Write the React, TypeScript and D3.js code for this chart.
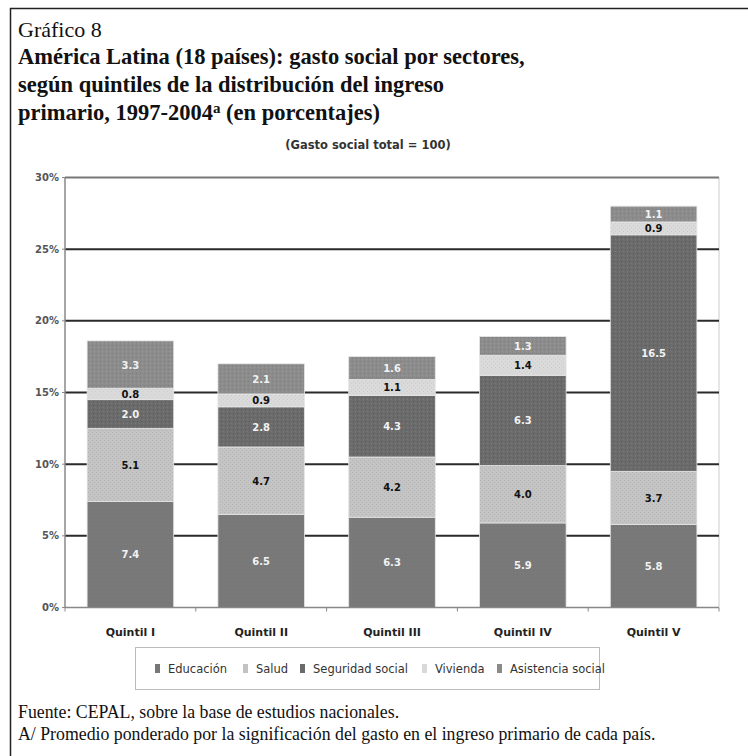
import React from "react";
import * as d3 from "d3";

const quintiles = ["Quintil I", "Quintil II", "Quintil III", "Quintil IV", "Quintil V"];
const sectors = ["Educación", "Salud", "Seguridad social", "Vivienda", "Asistencia social"];
const educacion = [7.4, 6.5, 6.3, 5.9, 5.8];
const salud = [5.1, 4.7, 4.2, 4.0, 3.7];
const seguridad = [2.0, 2.8, 4.3, 6.3, 16.5];
const vivienda = [0.8, 0.9, 1.1, 1.4, 0.9];
const asistencia = [3.3, 2.1, 1.6, 1.3, 1.1];
const yTicks = [0, 5, 10, 15, 20, 25, 30];

const seriesValues = [educacion, salud, seguridad, vivienda, asistencia];
const fills = ["url(#pEdu)", "url(#pSal)", "url(#pSeg)", "url(#pViv)", "url(#pAsi)"];
const swatch = ["#777777", "#c2c2c2", "#6a6a6a", "#d9d9d9", "#8a8a8a"];
const labelColor = ["#f2f2f2", "#111111", "#f2f2f2", "#111111", "#f2f2f2"];

const W = 748;
const H = 756;
const plotLeft = 65;
const plotRight = 719;
const plotTop = 177.5;
const plotBottom = 607.5;

export default function App() {
  const rows = quintiles.map((q, i) => {
    const r: Record<string, any> = { q };
    sectors.forEach((s, k) => (r[s] = seriesValues[k][i]));
    return r;
  });
  const stacked = d3.stack<any>().keys(sectors)(rows);

  const x = d3
    .scaleBand<string>()
    .domain(quintiles)
    .range([plotLeft, plotRight])
    .paddingInner(0.338)
    .paddingOuter(0.169);
  const y = d3.scaleLinear().domain([0, 30]).range([plotBottom, plotTop]);
  const step = x.step();

  const sans = "'DejaVu Sans', Verdana, sans-serif";
  const serif = "'Liberation Serif', 'DejaVu Serif', serif";

  const legendX = [155, 243, 300, 422, 497];

  return (
    <svg
      width={W}
      height={H}
      style={{ position: "absolute", left: 0, top: 0, background: "#fff" }}
    >
      <defs>
        <pattern id="pEdu" width="4" height="4" patternUnits="userSpaceOnUse">
          <rect width="4" height="4" fill="#797979" />
          <rect x="1" y="2" width="1" height="1" fill="#717171" />
        </pattern>
        <pattern id="pSal" width="4" height="4" patternUnits="userSpaceOnUse">
          <rect width="4" height="4" fill="#c4c4c4" />
          <rect x="0" y="0" width="1" height="1" fill="#b3b3b3" />
          <rect x="2" y="2" width="1" height="1" fill="#b3b3b3" />
        </pattern>
        <pattern id="pSeg" width="4" height="4" patternUnits="userSpaceOnUse">
          <rect width="4" height="4" fill="#6b6b6b" />
          <rect x="1" y="1" width="1" height="1" fill="#5a5a5a" />
          <rect x="3" y="3" width="1" height="1" fill="#7a7a7a" />
        </pattern>
        <pattern id="pViv" width="4" height="4" patternUnits="userSpaceOnUse">
          <rect width="4" height="4" fill="#dadada" />
          <rect x="1" y="1" width="1" height="1" fill="#cccccc" />
          <rect x="3" y="3" width="1" height="1" fill="#cccccc" />
        </pattern>
        <pattern id="pAsi" width="4" height="4" patternUnits="userSpaceOnUse">
          <rect width="4" height="4" fill="#8c8c8c" />
          <rect x="0" y="1" width="1" height="1" fill="#7d7d7d" />
          <rect x="2" y="3" width="1" height="1" fill="#9a9a9a" />
        </pattern>
      </defs>

      {/* outer frame */}
      <line x1={10} y1={8.5} x2={W} y2={8.5} stroke="#222" strokeWidth={1.5} />
      <line x1={10.5} y1={8} x2={10.5} y2={H} stroke="#222" strokeWidth={1.5} />

      {/* titles */}
      <text x={18} y={37} fontFamily={serif} fontSize={22} fill="#111">
        Gráfico 8
      </text>
      <g fontFamily={serif} fontSize={22.5} fontWeight="bold" fill="#111">
        <text x={18} y={64}>América Latina (18 países): gasto social por sectores,</text>
        <text x={18} y={92}>según quintiles de la distribución del ingreso</text>
        <text x={18} y={120}>
          primario, 1997-2004
          <tspan fontSize={15} dy={-7}>a</tspan>
          <tspan dy={7}> (en porcentajes)</tspan>
        </text>
      </g>
      <text
        x={368}
        y={149}
        textAnchor="middle"
        fontFamily={sans}
        fontSize={11.5}
        fontWeight="bold"
        fill="#333"
      >
        (Gasto social total = 100)
      </text>

      {/* plot frame */}
      <line x1={plotLeft} y1={plotTop} x2={plotRight} y2={plotTop} stroke="#777" strokeWidth={2} />
      <line
        x1={plotRight}
        y1={plotTop}
        x2={plotRight}
        y2={plotBottom}
        stroke="#999"
        strokeWidth={1}
        strokeDasharray="1 1"
      />

      {/* gridlines */}
      {yTicks
        .filter((t) => t > 0 && t < 30)
        .map((t) => (
          <line
            key={t}
            x1={plotLeft}
            x2={plotRight}
            y1={y(t)}
            y2={y(t)}
            stroke="#2a2a2a"
            strokeWidth={2}
          />
        ))}

      {/* stacked bars */}
      {stacked.map((layer, k) => (
        <g key={sectors[k]}>
          {layer.map((d, i) => {
            const x0 = x(quintiles[i]) as number;
            const top = y(d[1]);
            const h = y(d[0]) - y(d[1]);
            return (
              <rect
                key={i}
                x={x0}
                y={top}
                width={x.bandwidth()}
                height={h}
                fill={fills[k]}
                stroke="#e6e6e6"
                strokeWidth={0.8}
              />
            );
          })}
        </g>
      ))}

      {/* value labels */}
      {stacked.map((layer, k) => (
        <g key={"l" + k} fontFamily={sans} fontSize={10} fontWeight="bold" textAnchor="middle">
          {layer.map((d, i) => {
            const cx = (x(quintiles[i]) as number) + x.bandwidth() / 2;
            const cy = (y(d[0]) + y(d[1])) / 2;
            return (
              <text key={i} x={cx} y={cy + 4} fill={labelColor[k]}>
                {seriesValues[k][i].toFixed(1)}
              </text>
            );
          })}
        </g>
      ))}

      {/* axes */}
      <line x1={plotLeft} y1={plotTop} x2={plotLeft} y2={plotBottom} stroke="#888" strokeWidth={1.5} />
      <line x1={plotLeft} y1={plotBottom} x2={plotRight} y2={plotBottom} stroke="#888" strokeWidth={1.5} />
      {yTicks.map((t) => (
        <g key={"yt" + t}>
          <line x1={plotLeft - 3} x2={plotLeft} y1={y(t)} y2={y(t)} stroke="#888" />
          <text
            x={plotLeft - 6}
            y={y(t) + 3.5}
            textAnchor="end"
            fontFamily={sans}
            fontSize={10}
            fontWeight="bold"
            fill="#555"
          >
            {t}%
          </text>
        </g>
      ))}
      {d3.range(quintiles.length + 1).map((i) => (
        <line
          key={"xt" + i}
          x1={plotLeft + i * step}
          x2={plotLeft + i * step}
          y1={plotBottom}
          y2={plotBottom + 4}
          stroke="#888"
        />
      ))}
      {quintiles.map((q) => (
        <text
          key={q}
          x={(x(q) as number) + x.bandwidth() / 2}
          y={636}
          textAnchor="middle"
          fontFamily={sans}
          fontSize={11}
          fontWeight="bold"
          fill="#222"
        >
          {q}
        </text>
      ))}

      {/* legend */}
      <rect x={135.5} y={647.5} width={464} height={42} fill="none" stroke="#bbb" strokeWidth={1} />
      {sectors.map((s, k) => (
        <g key={"lg" + k}>
          <rect x={legendX[k]} y={664} width={5} height={9} fill={swatch[k]} />
          <text x={legendX[k] + 13} y={673} fontFamily={sans} fontSize={11.5} fill="#333">
            {s}
          </text>
        </g>
      ))}

      {/* notes */}
      <g fontFamily={serif} fontSize={17.8} fill="#111">
        <text x={18} y={718}>Fuente: CEPAL, sobre la base de estudios nacionales.</text>
        <text x={18} y={740}>
          A/ Promedio ponderado por la significación del gasto en el ingreso primario de cada país.
        </text>
      </g>
    </svg>
  );
}
